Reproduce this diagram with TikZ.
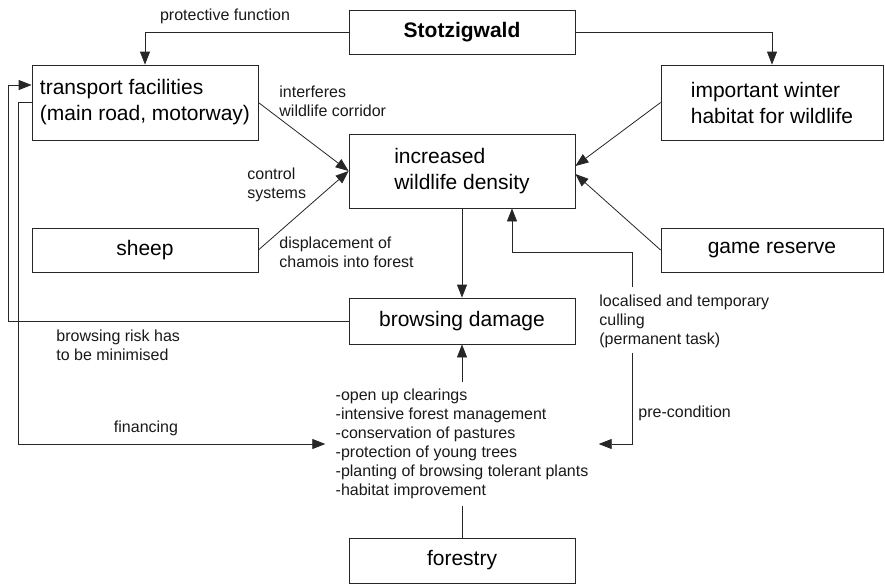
\documentclass[tikz,border=0pt]{standalone}
\usepackage{fontspec}
\setmainfont{Liberation Sans}
\usetikzlibrary{arrows.meta}
\begin{document}
\begin{tikzpicture}[x=1pt, y=-1pt, line width=0.8pt, draw=black!85,
        box/.style={draw, align=left, font=\fontsize{21}{26}\selectfont, minimum width=226pt, minimum height=44pt, inner sep=0pt},
        lbl/.style={align=left, font=\fontsize{16}{19}\selectfont, inner sep=0pt, text=black!90},
        arr/.style={-{Triangle[length=13pt,width=10pt]}}]
        \useasboundingbox (0,0) rectangle (885,584);
        \node[box, font=\fontsize{21}{26}\selectfont\bfseries] (stotz) at (462,32) {Stotzigwald};
        \node[box, minimum height=75pt] (transport) at (145,102.5) {transport facilities\\(main road, motorway)};
        \node[box, minimum width=222pt, minimum height=75pt] (winter) at (772,102.5) {important winter\\habitat for wildlife};
        \node[box, minimum height=74pt] (density) at (462,171) {increased\\wildlife density};
        \node[box] (sheep) at (145,250) {sheep};
        \node[box, minimum width=222pt] (reserve) at (772,250) {game reserve};
        \node[box, minimum height=46pt] (browsing) at (462,321) {browsing damage};
        \node[box, minimum height=45pt] (forestry) at (462,560.5) {forestry};
        \node[lbl, inner xsep=10pt, inner ysep=7pt] (measures) at (462,444) {-open up clearings\\-intensive forest management\\-conservation of pastures\\-protection of young trees\\-planting of browsing tolerant plants\\-habitat improvement};
        \node[lbl, anchor=west] (culling) at (599,321) {localised and temporary\\culling\\(permanent task)};
        \coordinate (cullTop) at (632,287);
        \coordinate (cullBot) at (632,353);
        \node[lbl] (protect) at (225,16) {protective function};
        \node[lbl, anchor=west] (interferes) at (279,101.5) {interferes\\wildlife corridor};
        \node[lbl, anchor=west] (control) at (247,184.5) {control\\systems};
        \node[lbl, anchor=west] (displace) at (279,252.5) {displacement of\\chamois into forest};
        \node[lbl, anchor=west] (risk) at (56,345) {browsing risk has\\to be minimised};
        \node[lbl] (finance) at (146,428) {financing};
        \node[lbl, anchor=west] (precond) at (638,413) {pre-condition};
        \draw[arr] (stotz.west) -| (transport.north);
        \draw[arr] (stotz.east) -| (winter.north);
        \foreach \i in {transport, sheep}
        \draw[arr] (\i.east) -- (density.west);
        \draw[arr] (winter.west) -- ([yshift=5pt]density.east);
        \draw[arr] (reserve.west) -- ([yshift=-3pt]density.east);
        \draw[arr] (density.south) -- (browsing.north);
        \draw[arr] (measures.north) -- (browsing.south);
        \draw (forestry.north) -- (measures.south);
        \draw[arr] (browsing.west) -- (8,321) |- ([yshift=17.5pt]transport.west);
        \draw[arr] (transport.west) -- (18,102.5) |- (measures.west);
        \draw[arr] (cullTop) -- (632,252) -| ([xshift=50pt]density.south);
        \draw[arr] (cullBot) |- (measures.east);
    \end{tikzpicture}
\end{document}
